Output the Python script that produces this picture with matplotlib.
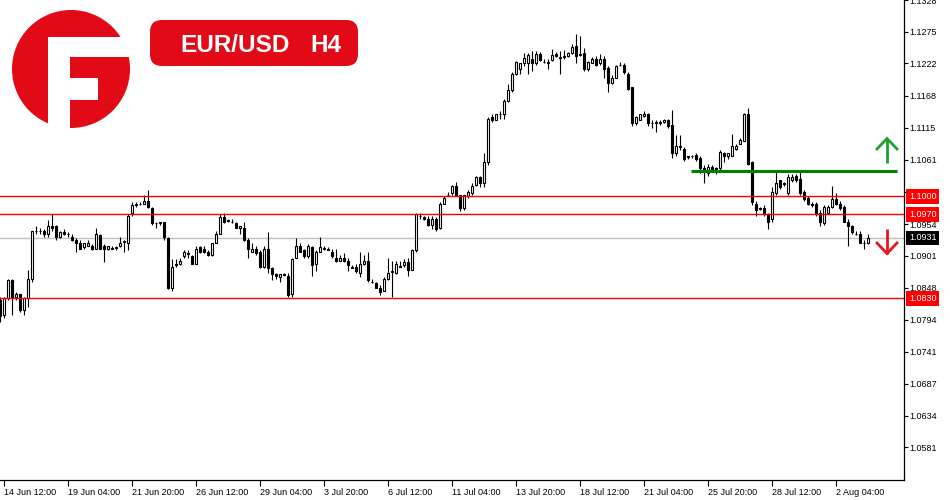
import numpy as np
import matplotlib
matplotlib.use("Agg")
import matplotlib.pyplot as plt
from matplotlib.patches import Circle, Rectangle, FancyBboxPatch

# EUR/USD H4 свечи (цены)
opens = [
    1.0827, 1.0802, 1.0830, 1.0860, 1.0832, 1.0837, 1.0810, 1.0830, 1.0862, 1.0942,
    1.0943, 1.0942, 1.0937, 1.0950, 1.0950, 1.0933, 1.0940, 1.0938, 1.0933, 1.0927,
    1.0923, 1.0915, 1.0918, 1.0918, 1.0913, 1.0935, 1.0918, 1.0913, 1.0913, 1.0915,
    1.0917, 1.0925, 1.0923, 1.0972, 1.0987, 1.0987, 1.0988, 1.0993, 1.0980, 1.0955,
    1.0955, 1.0957, 1.0930, 1.0847, 1.0885, 1.0887, 1.0900, 1.0905, 1.0900, 1.0888,
    1.0915, 1.0913, 1.0907, 1.0903, 1.0923, 1.0938, 1.0965, 1.0960, 1.0958, 1.0955,
    1.0947, 1.0948, 1.0927, 1.0908, 1.0913, 1.0907, 1.0883, 1.0912, 1.0880, 1.0870,
    1.0865, 1.0870, 1.0868, 1.0837, 1.0898, 1.0917, 1.0910, 1.0900, 1.0915, 1.0887,
    1.0908, 1.0913, 1.0912, 1.0908, 1.0898, 1.0893, 1.0898, 1.0893, 1.0882, 1.0883,
    1.0873, 1.0887, 1.0893, 1.0858, 1.0855, 1.0848, 1.0843, 1.0862, 1.0875, 1.0872,
    1.0883, 1.0885, 1.0890, 1.0878, 1.0910, 1.0968, 1.0965, 1.0963, 1.0952, 1.0963,
    1.0947, 1.0988, 1.1003, 1.1005, 1.1018, 1.1002, 1.0980, 1.1000, 1.1005, 1.1020,
    1.1033, 1.1022, 1.1057, 1.1132, 1.1128, 1.1137, 1.1138, 1.1160, 1.1177, 1.1205,
    1.1213, 1.1222, 1.1223, 1.1230, 1.1222, 1.1238, 1.1225, 1.1223, 1.1228, 1.1238,
    1.1233, 1.1233, 1.1235, 1.1240, 1.1252, 1.1238, 1.1240, 1.1213, 1.1223, 1.1230,
    1.1222, 1.1230, 1.1215, 1.1190, 1.1198, 1.1220, 1.1220, 1.1205, 1.1182, 1.1122,
    1.1128, 1.1135, 1.1137, 1.1123, 1.1123, 1.1123, 1.1125, 1.1127, 1.1120, 1.1072,
    1.1085, 1.1080, 1.1067, 1.1067, 1.1070, 1.1065, 1.1048, 1.1040, 1.1050, 1.1047,
    1.1047, 1.1072, 1.1067, 1.1068, 1.1080, 1.1088, 1.1093, 1.1138, 1.1057, 1.0988,
    1.0980, 1.0980, 1.0970, 1.0962, 1.1005, 1.1027, 1.1022, 1.1005, 1.1027, 1.1035,
    1.1030, 1.1007, 1.0997, 1.0987, 1.0987, 1.0972, 1.0955, 1.0972, 1.0983, 1.0995,
    1.0988, 1.0983, 1.0958, 1.0950, 1.0938, 1.0938, 1.0923, 1.0923,
]
highs = [
    1.0832, 1.0833, 1.0862, 1.0862, 1.0840, 1.0838, 1.0833, 1.0878, 1.0943, 1.0950,
    1.0948, 1.0945, 1.0960, 1.0970, 1.0953, 1.0942, 1.0945, 1.0940, 1.0937, 1.0930,
    1.0927, 1.0923, 1.0927, 1.0920, 1.0947, 1.0938, 1.0920, 1.0918, 1.0917, 1.0917,
    1.0932, 1.0928, 1.0970, 1.0990, 1.0990, 1.0990, 1.1003, 1.1010, 1.0983, 1.0958,
    1.0958, 1.0958, 1.0932, 1.0895, 1.0895, 1.0897, 1.0910, 1.0910, 1.0903, 1.0917,
    1.0918, 1.0917, 1.0910, 1.0923, 1.0942, 1.0970, 1.0973, 1.0963, 1.0962, 1.0958,
    1.0950, 1.0958, 1.0930, 1.0923, 1.0918, 1.0910, 1.0918, 1.0940, 1.0883, 1.0873,
    1.0868, 1.0873, 1.0872, 1.0897, 1.0930, 1.0923, 1.0913, 1.0920, 1.0918, 1.0910,
    1.0932, 1.0917, 1.0915, 1.0912, 1.0913, 1.0902, 1.0905, 1.0897, 1.0885, 1.0887,
    1.0907, 1.0902, 1.0907, 1.0862, 1.0858, 1.0852, 1.0865, 1.0898, 1.0892, 1.0893,
    1.0893, 1.0895, 1.0897, 1.0913, 1.0973, 1.0972, 1.0968, 1.0967, 1.0967, 1.0965,
    1.0990, 1.1000, 1.1008, 1.1020, 1.1025, 1.1003, 1.1003, 1.1010, 1.1022, 1.1035,
    1.1035, 1.1072, 1.1133, 1.1138, 1.1138, 1.1143, 1.1162, 1.1188, 1.1207, 1.1227,
    1.1223, 1.1240, 1.1240, 1.1243, 1.1243, 1.1242, 1.1230, 1.1230, 1.1247, 1.1242,
    1.1243, 1.1245, 1.1242, 1.1255, 1.1272, 1.1268, 1.1248, 1.1227, 1.1233, 1.1235,
    1.1238, 1.1235, 1.1218, 1.1202, 1.1220, 1.1225, 1.1223, 1.1208, 1.1183, 1.1135,
    1.1138, 1.1142, 1.1140, 1.1127, 1.1127, 1.1127, 1.1130, 1.1130, 1.1145, 1.1102,
    1.1102, 1.1083, 1.1068, 1.1070, 1.1073, 1.1068, 1.1052, 1.1055, 1.1053, 1.1050,
    1.1077, 1.1075, 1.1073, 1.1105, 1.1087, 1.1098, 1.1140, 1.1148, 1.1060, 1.0992,
    1.0983, 1.0985, 1.0973, 1.1015, 1.1043, 1.1028, 1.1025, 1.1038, 1.1038, 1.1038,
    1.1043, 1.1010, 1.1000, 1.0990, 1.0990, 1.0977, 1.0985, 1.0985, 1.1018, 1.1005,
    1.0992, 1.0985, 1.0962, 1.0953, 1.0942, 1.0942, 1.0927, 1.0938,
]
lows = [
    1.0790, 1.0797, 1.0828, 1.0802, 1.0827, 1.0807, 1.0802, 1.0815, 1.0858, 1.0938,
    1.0937, 1.0933, 1.0932, 1.0943, 1.0928, 1.0930, 1.0935, 1.0932, 1.0925, 1.0907,
    1.0912, 1.0913, 1.0917, 1.0910, 1.0912, 1.0912, 1.0890, 1.0910, 1.0912, 1.0910,
    1.0915, 1.0908, 1.0910, 1.0968, 1.0983, 1.0985, 1.0987, 1.0980, 1.0952, 1.0948,
    1.0953, 1.0928, 1.0845, 1.0843, 1.0882, 1.0885, 1.0897, 1.0898, 1.0887, 1.0887,
    1.0905, 1.0905, 1.0900, 1.0900, 1.0922, 1.0937, 1.0955, 1.0957, 1.0955, 1.0947,
    1.0938, 1.0925, 1.0897, 1.0907, 1.0903, 1.0880, 1.0880, 1.0873, 1.0860, 1.0862,
    1.0858, 1.0867, 1.0833, 1.0833, 1.0897, 1.0907, 1.0898, 1.0898, 1.0868, 1.0875,
    1.0907, 1.0910, 1.0910, 1.0898, 1.0890, 1.0892, 1.0890, 1.0875, 1.0880, 1.0873,
    1.0865, 1.0885, 1.0858, 1.0855, 1.0847, 1.0835, 1.0842, 1.0860, 1.0833, 1.0870,
    1.0882, 1.0883, 1.0867, 1.0877, 1.0907, 1.0963, 1.0960, 1.0950, 1.0945, 1.0943,
    1.0945, 1.0987, 1.1000, 1.1003, 1.1000, 1.0975, 1.0977, 1.0998, 1.1003, 1.1018,
    1.1015, 1.1015, 1.1053, 1.1125, 1.1127, 1.1130, 1.1130, 1.1158, 1.1175, 1.1202,
    1.1205, 1.1218, 1.1205, 1.1210, 1.1220, 1.1227, 1.1222, 1.1213, 1.1227, 1.1233,
    1.1205, 1.1230, 1.1233, 1.1238, 1.1223, 1.1235, 1.1210, 1.1210, 1.1222, 1.1217,
    1.1220, 1.1197, 1.1175, 1.1188, 1.1197, 1.1217, 1.1205, 1.1177, 1.1118, 1.1120,
    1.1127, 1.1133, 1.1118, 1.1115, 1.1107, 1.1120, 1.1122, 1.1115, 1.1065, 1.1068,
    1.1077, 1.1060, 1.1063, 1.1065, 1.1060, 1.1040, 1.1022, 1.1035, 1.1043, 1.1038,
    1.1045, 1.1057, 1.1063, 1.1067, 1.1078, 1.1087, 1.1092, 1.1052, 1.0985, 1.0967,
    1.0977, 1.0968, 1.0945, 1.0957, 1.1002, 1.1012, 1.1017, 1.1003, 1.1025, 1.1025,
    1.1002, 1.0993, 1.0985, 1.0983, 1.0968, 1.0950, 1.0953, 1.0970, 1.0980, 1.0985,
    1.0978, 1.0957, 1.0918, 1.0937, 1.0935, 1.0922, 1.0912, 1.0920,
]
closes = [
    1.0800, 1.0830, 1.0860, 1.0830, 1.0837, 1.0810, 1.0830, 1.0863, 1.0942, 1.0943,
    1.0942, 1.0937, 1.0950, 1.0948, 1.0932, 1.0940, 1.0938, 1.0937, 1.0928, 1.0923,
    1.0913, 1.0922, 1.0923, 1.0913, 1.0937, 1.0913, 1.0913, 1.0917, 1.0914, 1.0914,
    1.0923, 1.0924, 1.0968, 1.0985, 1.0986, 1.0988, 1.0992, 1.0982, 1.0955, 1.0956,
    1.0957, 1.0932, 1.0847, 1.0883, 1.0887, 1.0893, 1.0907, 1.0904, 1.0888, 1.0913,
    1.0907, 1.0907, 1.0902, 1.0922, 1.0938, 1.0965, 1.0957, 1.0959, 1.0957, 1.0948,
    1.0950, 1.0927, 1.0912, 1.0913, 1.0905, 1.0883, 1.0913, 1.0880, 1.0870, 1.0868,
    1.0870, 1.0869, 1.0835, 1.0895, 1.0918, 1.0908, 1.0900, 1.0917, 1.0885, 1.0908,
    1.0915, 1.0914, 1.0911, 1.0900, 1.0892, 1.0898, 1.0892, 1.0885, 1.0881, 1.0875,
    1.0887, 1.0893, 1.0860, 1.0857, 1.0848, 1.0840, 1.0862, 1.0873, 1.0874, 1.0887,
    1.0884, 1.0890, 1.0878, 1.0910, 1.0971, 1.0967, 1.0962, 1.0952, 1.0963, 1.0945,
    1.0988, 1.0998, 1.1002, 1.1017, 1.1002, 1.0980, 1.1002, 1.1007, 1.1018, 1.1033,
    1.1022, 1.1058, 1.1130, 1.1127, 1.1137, 1.1138, 1.1160, 1.1178, 1.1205, 1.1225,
    1.1222, 1.1232, 1.1237, 1.1223, 1.1238, 1.1228, 1.1224, 1.1224, 1.1237, 1.1235,
    1.1232, 1.1234, 1.1240, 1.1250, 1.1235, 1.1237, 1.1213, 1.1225, 1.1230, 1.1220,
    1.1230, 1.1213, 1.1190, 1.1198, 1.1217, 1.1219, 1.1207, 1.1180, 1.1123, 1.1132,
    1.1137, 1.1138, 1.1123, 1.1122, 1.1124, 1.1125, 1.1127, 1.1117, 1.1072, 1.1085,
    1.1082, 1.1063, 1.1066, 1.1068, 1.1063, 1.1047, 1.1043, 1.1050, 1.1045, 1.1046,
    1.1075, 1.1067, 1.1072, 1.1085, 1.1085, 1.1095, 1.1137, 1.1055, 1.0990, 1.0977,
    1.0979, 1.0972, 1.0958, 1.1008, 1.1023, 1.1015, 1.1021, 1.1033, 1.1033, 1.1027,
    1.1005, 1.0995, 1.0988, 1.0986, 1.0972, 1.0957, 1.0982, 1.0983, 1.0995, 1.0987,
    1.0980, 1.0958, 1.0950, 1.0940, 1.0937, 1.0923, 1.0922, 1.0931,
]
assert len(opens) == len(highs) == len(lows) == len(closes)

tick_bars = [1, 17, 33, 49, 65, 81, 97, 113, 129, 145, 161, 177, 193, 209]
tick_labels = ["14 Jun 12:00", "19 Jun 04:00", "21 Jun 20:00", "26 Jun 12:00",
               "29 Jun 04:00", "3 Jul 20:00", "6 Jul 12:00", "11 Jul 04:00",
               "13 Jul 20:00", "18 Jul 12:00", "21 Jul 04:00", "25 Jul 20:00",
               "28 Jul 12:00", "2 Aug 04:00"]
price_ticks = [1.0581, 1.0634, 1.0687, 1.0741, 1.0794, 1.0848, 1.0901, 1.0954,
               1.1008, 1.1061, 1.1115, 1.1168, 1.1222, 1.1275, 1.1328]
red_levels = [1.1000, 1.0970, 1.0830]
last_price = 1.0931
green_level = 1.1043
green_from, green_to = 172.75, 224.25

RED = "#e30a17"
FONT = "Liberation Sans"

o = np.array(opens)
h = np.array(highs)
l = np.array(lows)
c = np.array(closes)
x = np.arange(len(o))
bull = c >= o

fig = plt.figure(figsize=(9.5, 5), dpi=100)
ax = fig.add_axes([0, 20 / 500, 904 / 950, 480 / 500])

# свечи
ax.vlines(x, l, h, color="black", lw=0.8, zorder=2)
body_low = np.minimum(o, c)
body_h = np.abs(c - o)
ax.bar(x[bull], body_h[bull], bottom=body_low[bull], width=0.6,
       color="white", edgecolor="black", linewidth=0.8, zorder=3)
ax.bar(x[~bull], body_h[~bull], bottom=body_low[~bull], width=0.6,
       color="black", edgecolor="black", linewidth=0.8, zorder=3)

# уровни
ax.axhline(last_price, color="#c0c0c0", lw=1, zorder=1)
for lev in red_levels:
    ax.axhline(lev, color="#ff0000", lw=1, zorder=4)
ax.hlines(green_level, green_from, green_to, color="#008000", lw=2.2, zorder=4)

ax.set_xlim(0, 226)
ax.set_ylim(1.05267, 1.13267)

for s in ["left", "top"]:
    ax.spines[s].set_visible(False)
for s in ["right", "bottom"]:
    ax.spines[s].set_linewidth(0.9)

ax.yaxis.tick_right()
ax.set_yticks(price_ticks)
ax.set_yticklabels([f"{p:.4f}" for p in price_ticks], fontfamily=FONT)
ax.tick_params(axis="y", direction="out", length=3, width=0.8, pad=0.5, labelsize=6.5)

ax.set_xticks(tick_bars)
ax.set_xticklabels(tick_labels, fontfamily=FONT, ha="left")
ax.tick_params(axis="x", direction="out", length=4, width=0.8, pad=2, labelsize=6.5)

# метки цен справа
ytr = ax.get_yaxis_transform()
for lev in red_levels:
    ax.text(1.0 + 5 / 904, lev, f"{lev:.4f}", transform=ytr, ha="left", va="center",
            color="white", fontsize=6.5, fontfamily=FONT, zorder=6, clip_on=False,
            bbox=dict(boxstyle="square,pad=0.3", fc="#ff0000", ec="none"))
ax.text(1.0 + 5 / 904, last_price, f"{last_price:.4f}", transform=ytr, ha="left",
        va="center", color="white", fontsize=6.5, fontfamily=FONT, zorder=6, clip_on=False,
        bbox=dict(boxstyle="square,pad=0.3", fc="black", ec="none"))

# логотип, плашка и стрелки в пикселях
ov = fig.add_axes([0, 0, 1, 1])
ov.set_xlim(0, 950)
ov.set_ylim(500, 0)
ov.axis("off")
ov.patch.set_alpha(0)

ov.add_patch(Circle((71, 69), 59, color=RED, lw=0))
ov.add_patch(Rectangle((48, 37), 90, 20, color="white", lw=0))
ov.add_patch(Rectangle((48, 37), 22, 95, color="white", lw=0))
ov.add_patch(Rectangle((70, 78), 28, 22, color="white", lw=0))

ov.add_patch(FancyBboxPatch((150, 20), 208, 46, boxstyle="round,pad=0,rounding_size=12",
                            color=RED, lw=0))
ov.text(180, 52, "EUR/USD", color="white", fontsize=17.5, fontweight="bold",
        fontfamily=FONT, ha="left", va="baseline")
ov.text(310, 52, "H4", color="white", fontsize=17.5, fontweight="bold",
        fontfamily=FONT, ha="left", va="baseline")

ov.plot([887, 887], [163, 139], color="#1ea22e", lw=2, solid_capstyle="butt")
ov.plot([877, 887, 897], [149, 138.5, 149], color="#1ea22e", lw=2, solid_joinstyle="miter")
ov.plot([887, 887], [229, 254], color="#e8141e", lw=2, solid_capstyle="butt")
ov.plot([877, 887, 897], [243, 253.5, 243], color="#e8141e", lw=2, solid_joinstyle="miter")

fig.savefig("out.png", dpi=100, facecolor="white")
